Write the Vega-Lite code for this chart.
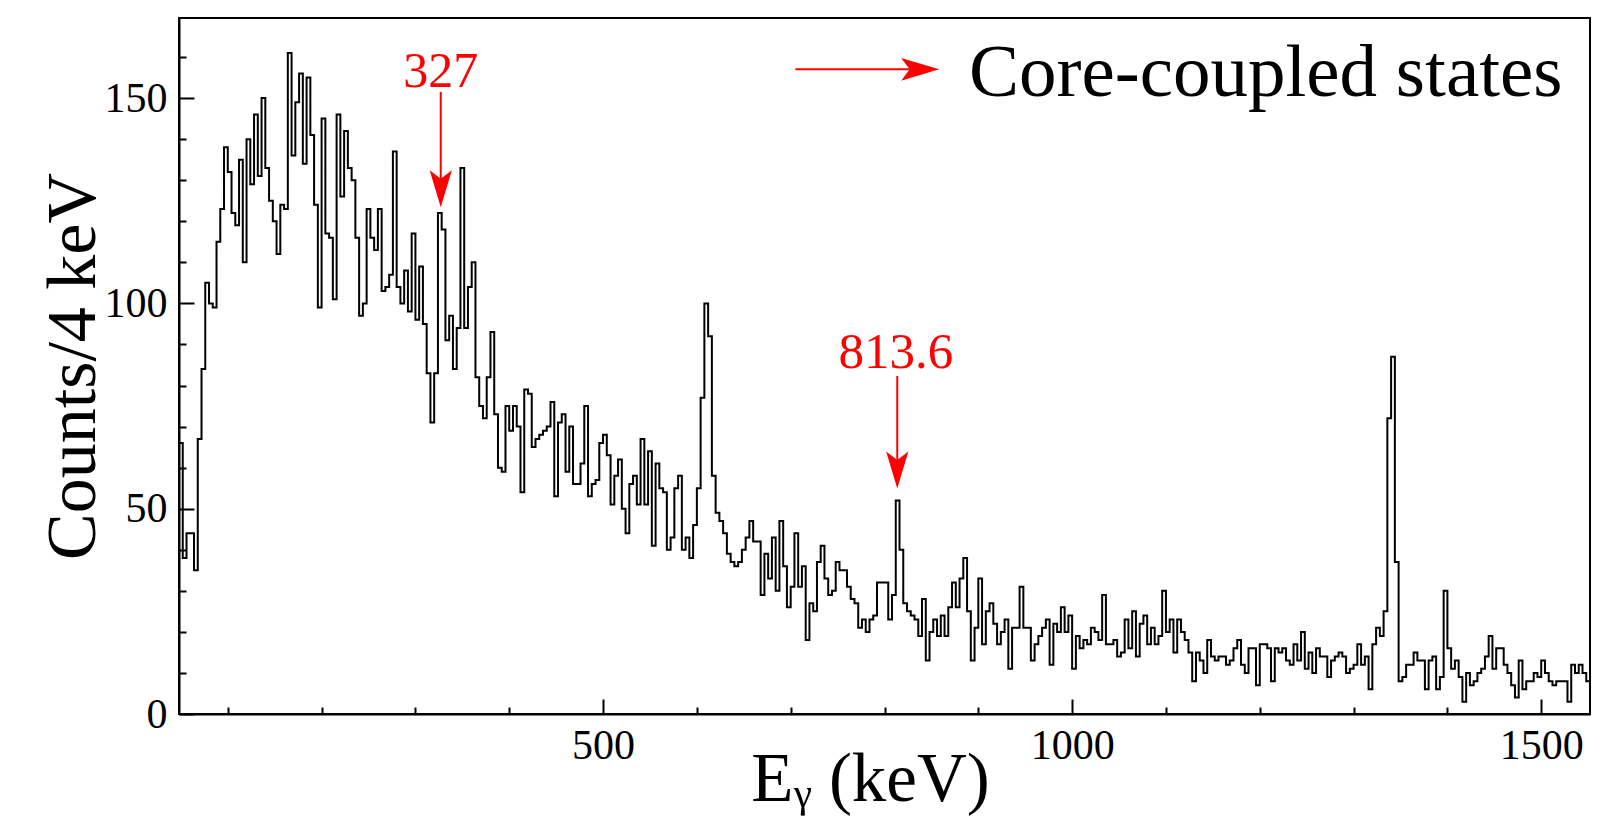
{
  "$schema": "https://vega.github.io/schema/vega-lite/v6.json",
  "width": 1411,
  "height": 696,
  "autosize": {"type": "none"},
  "padding": {"left": 179, "top": 18, "right": 13, "bottom": 102},
  "background": "white",
  "config": {
    "view": {"stroke": "black", "strokeWidth": 2},
    "axis": {
      "domainColor": "black", "domainWidth": 2, "tickColor": "black", "tickWidth": 2,
      "labelFont": "Liberation Serif", "labelFontSize": 42, "labelColor": "black",
      "titleFont": "Liberation Serif", "titleFontSize": 70, "titleFontWeight": "normal", "titleColor": "black",
      "grid": false, "labelOverlap": false, "labelFlush": false
    }
  },
  "datasets": {
    "spec": [
      {"e":48,"c":66},{"e":52,"c":38},{"e":56,"c":44},{"e":60,"c":44},{"e":64,"c":35},{"e":68,"c":67},{"e":72,"c":84},{"e":76,"c":105},{"e":80,"c":100},{"e":84,"c":99},
      {"e":88,"c":115},{"e":92,"c":123},{"e":96,"c":138},{"e":100,"c":132},{"e":104,"c":122},{"e":108,"c":119},{"e":112,"c":135},{"e":116,"c":110},{"e":120,"c":140},{"e":124,"c":129},
      {"e":128,"c":146},{"e":132,"c":131},{"e":136,"c":150},{"e":140,"c":133},{"e":144,"c":125},{"e":148,"c":120},{"e":152,"c":112},{"e":156,"c":124},{"e":160,"c":123},{"e":164,"c":161},
      {"e":168,"c":136},{"e":172,"c":149},{"e":176,"c":156},{"e":180,"c":134},{"e":184,"c":155},{"e":188,"c":141},{"e":192,"c":124},{"e":196,"c":99},{"e":200,"c":145},{"e":204,"c":117},
      {"e":208,"c":116},{"e":212,"c":101},{"e":216,"c":146},{"e":220,"c":126},{"e":224,"c":142},{"e":228,"c":133},{"e":232,"c":130},{"e":236,"c":116},{"e":240,"c":97},{"e":244,"c":100},
      {"e":248,"c":123},{"e":252,"c":116},{"e":256,"c":113},{"e":260,"c":123},{"e":264,"c":103},{"e":268,"c":104},{"e":272,"c":107},{"e":276,"c":137},{"e":280,"c":104},{"e":284,"c":100},
      {"e":288,"c":108},{"e":292,"c":98},{"e":296,"c":117},{"e":300,"c":96},{"e":304,"c":109},{"e":308,"c":95},{"e":312,"c":83},{"e":316,"c":71},{"e":320,"c":83},{"e":324,"c":122},
      {"e":328,"c":118},{"e":332,"c":91},{"e":336,"c":97},{"e":340,"c":84},{"e":344,"c":94},{"e":348,"c":133},{"e":352,"c":94},{"e":356,"c":104},{"e":360,"c":110},{"e":364,"c":82},
      {"e":368,"c":75},{"e":372,"c":72},{"e":376,"c":82},{"e":380,"c":93},{"e":384,"c":73},{"e":388,"c":60},{"e":392,"c":59},{"e":396,"c":75},{"e":400,"c":69},{"e":404,"c":75},
      {"e":408,"c":70},{"e":412,"c":54},{"e":416,"c":79},{"e":420,"c":78},{"e":424,"c":65},{"e":428,"c":67},{"e":432,"c":68},{"e":436,"c":69},{"e":440,"c":70},{"e":444,"c":76},
      {"e":448,"c":53},{"e":452,"c":71},{"e":456,"c":73},{"e":460,"c":59},{"e":464,"c":70},{"e":468,"c":56},{"e":472,"c":56},{"e":476,"c":61},{"e":480,"c":75},{"e":484,"c":53},
      {"e":488,"c":56},{"e":492,"c":57},{"e":496,"c":66},{"e":500,"c":68},{"e":504,"c":63},{"e":508,"c":51},{"e":512,"c":58},{"e":516,"c":62},{"e":520,"c":50},{"e":524,"c":44},
      {"e":528,"c":56},{"e":532,"c":58},{"e":536,"c":51},{"e":540,"c":67},{"e":544,"c":51},{"e":548,"c":64},{"e":552,"c":41},{"e":556,"c":61},{"e":560,"c":55},{"e":564,"c":54},
      {"e":568,"c":40},{"e":572,"c":43},{"e":576,"c":55},{"e":580,"c":58},{"e":584,"c":40},{"e":588,"c":43},{"e":592,"c":38},{"e":596,"c":46},{"e":600,"c":55},{"e":604,"c":77},
      {"e":608,"c":100},{"e":612,"c":92},{"e":616,"c":58},{"e":620,"c":49},{"e":624,"c":47},{"e":628,"c":44},{"e":632,"c":39},{"e":636,"c":37},{"e":640,"c":36},{"e":644,"c":37},
      {"e":648,"c":40},{"e":652,"c":43},{"e":656,"c":47},{"e":660,"c":42},{"e":664,"c":42},{"e":668,"c":29},{"e":672,"c":39},{"e":676,"c":33},{"e":680,"c":43},{"e":684,"c":30},
      {"e":688,"c":47},{"e":692,"c":36},{"e":696,"c":26},{"e":700,"c":31},{"e":704,"c":44},{"e":708,"c":31},{"e":712,"c":36},{"e":716,"c":18},{"e":720,"c":27},{"e":724,"c":25},
      {"e":728,"c":37},{"e":732,"c":41},{"e":736,"c":33},{"e":740,"c":29},{"e":744,"c":30},{"e":748,"c":37},{"e":752,"c":35},{"e":756,"c":35},{"e":760,"c":31},{"e":764,"c":28},
      {"e":768,"c":27},{"e":772,"c":21},{"e":776,"c":23},{"e":780,"c":20},{"e":784,"c":23},{"e":788,"c":24},{"e":792,"c":32},{"e":796,"c":32},{"e":800,"c":32},{"e":804,"c":23},
      {"e":808,"c":29},{"e":812,"c":52},{"e":816,"c":40},{"e":820,"c":27},{"e":824,"c":25},{"e":828,"c":24},{"e":832,"c":23},{"e":836,"c":19},{"e":840,"c":28},{"e":844,"c":13},
      {"e":848,"c":20},{"e":852,"c":23},{"e":856,"c":19},{"e":860,"c":24},{"e":864,"c":19},{"e":868,"c":26},{"e":872,"c":32},{"e":876,"c":26},{"e":880,"c":33},{"e":884,"c":38},
      {"e":888,"c":25},{"e":892,"c":13},{"e":896,"c":21},{"e":900,"c":33},{"e":904,"c":17},{"e":908,"c":25},{"e":912,"c":27},{"e":916,"c":22},{"e":920,"c":17},{"e":924,"c":20},
      {"e":928,"c":23},{"e":932,"c":11},{"e":936,"c":21},{"e":940,"c":21},{"e":944,"c":31},{"e":948,"c":21},{"e":952,"c":21},{"e":956,"c":13},{"e":960,"c":17},{"e":964,"c":19},
      {"e":968,"c":21},{"e":972,"c":23},{"e":976,"c":12},{"e":980,"c":22},{"e":984,"c":20},{"e":988,"c":26},{"e":992,"c":20},{"e":996,"c":24},{"e":1000,"c":11},{"e":1004,"c":19},
      {"e":1008,"c":16},{"e":1012,"c":18},{"e":1016,"c":17},{"e":1020,"c":21},{"e":1024,"c":20},{"e":1028,"c":18},{"e":1032,"c":29},{"e":1036,"c":17},{"e":1040,"c":17},{"e":1044,"c":18},
      {"e":1048,"c":14},{"e":1052,"c":15},{"e":1056,"c":23},{"e":1060,"c":16},{"e":1064,"c":25},{"e":1068,"c":14},{"e":1072,"c":22},{"e":1076,"c":24},{"e":1080,"c":17},{"e":1084,"c":21},
      {"e":1088,"c":17},{"e":1092,"c":19},{"e":1096,"c":30},{"e":1100,"c":20},{"e":1104,"c":23},{"e":1108,"c":15},{"e":1112,"c":23},{"e":1116,"c":20},{"e":1120,"c":18},{"e":1124,"c":15},
      {"e":1128,"c":8},{"e":1132,"c":15},{"e":1136,"c":13},{"e":1140,"c":10},{"e":1144,"c":18},{"e":1148,"c":14},{"e":1152,"c":13},{"e":1156,"c":14},{"e":1160,"c":14},{"e":1164,"c":12},
      {"e":1168,"c":13},{"e":1172,"c":16},{"e":1176,"c":18},{"e":1180,"c":12},{"e":1184,"c":10},{"e":1188,"c":16},{"e":1192,"c":16},{"e":1196,"c":7},{"e":1200,"c":17},{"e":1204,"c":17},
      {"e":1208,"c":16},{"e":1212,"c":8},{"e":1216,"c":16},{"e":1220,"c":15},{"e":1224,"c":16},{"e":1228,"c":13},{"e":1232,"c":12},{"e":1236,"c":17},{"e":1240,"c":13},{"e":1244,"c":20},
      {"e":1248,"c":11},{"e":1252,"c":15},{"e":1256,"c":10},{"e":1260,"c":16},{"e":1264,"c":14},{"e":1268,"c":14},{"e":1272,"c":9},{"e":1276,"c":13},{"e":1280,"c":14},{"e":1284,"c":15},
      {"e":1288,"c":14},{"e":1292,"c":10},{"e":1296,"c":11},{"e":1300,"c":12},{"e":1304,"c":17},{"e":1308,"c":12},{"e":1312,"c":14},{"e":1316,"c":6},{"e":1320,"c":17},{"e":1324,"c":21},
      {"e":1328,"c":19},{"e":1332,"c":25},{"e":1336,"c":72},{"e":1340,"c":87},{"e":1344,"c":37},{"e":1348,"c":8},{"e":1352,"c":9},{"e":1356,"c":12},{"e":1360,"c":12},{"e":1364,"c":15},
      {"e":1368,"c":13},{"e":1372,"c":13},{"e":1376,"c":6},{"e":1380,"c":13},{"e":1384,"c":14},{"e":1388,"c":6},{"e":1392,"c":9},{"e":1396,"c":30},{"e":1400,"c":16},{"e":1404,"c":11},
      {"e":1408,"c":13},{"e":1412,"c":9},{"e":1416,"c":3},{"e":1420,"c":10},{"e":1424,"c":7},{"e":1428,"c":8},{"e":1432,"c":10},{"e":1436,"c":11},{"e":1440,"c":14},{"e":1444,"c":19},
      {"e":1448,"c":11},{"e":1452,"c":16},{"e":1456,"c":16},{"e":1460,"c":12},{"e":1464,"c":10},{"e":1468,"c":7},{"e":1472,"c":4},{"e":1476,"c":13},{"e":1480,"c":6},{"e":1484,"c":8},
      {"e":1488,"c":8},{"e":1492,"c":10},{"e":1496,"c":9},{"e":1500,"c":13},{"e":1504,"c":10},{"e":1508,"c":8},{"e":1512,"c":7},{"e":1516,"c":8},{"e":1520,"c":8},{"e":1524,"c":8},
      {"e":1528,"c":3},{"e":1532,"c":12},{"e":1536,"c":10},{"e":1540,"c":12},{"e":1544,"c":10},{"e":1548,"c":8},{"e":1552,"c":8}
    ],
    "one": [{}]
  },
  "layer": [
    {
      "data": {"name": "spec"},
      "mark": {"type": "line", "interpolate": "step-after", "color": "black", "strokeWidth": 2, "clip": true},
      "encoding": {
        "x": {"field": "e", "type": "quantitative",
          "scale": {"domain": [48, 1552], "nice": false, "zero": false},
          "axis": {
            "values": [100,200,300,400,500,600,700,800,900,1000,1100,1200,1300,1400,1500],
            "format": "d",
            "tickSize": {"condition": {"test": "datum.value % 500 === 0", "value": -15}, "value": -7},
            "labelExpr": "datum.value % 500 === 0 ? datum.label : ''",
            "labelPadding": 26,
            "title": "Eᵧ (keV)",
            "titleFontSize": 69,
            "titleX": 691, "titleY": 86, "titleBaseline": "alphabetic", "titleAlign": "center"
          }},
        "y": {"field": "c", "type": "quantitative",
          "scale": {"domain": [0, 169.5], "nice": false},
          "axis": {
            "values": [0,10,20,30,40,50,60,70,80,90,100,110,120,130,140,150,160],
            "format": "d",
            "tickSize": {"condition": {"test": "datum.value % 50 === 0", "value": -15}, "value": -7},
            "labelExpr": "datum.value % 50 === 0 ? datum.label : ''",
            "labelPadding": 27,
            "title": "Counts/4 keV",
            "titleX": -85, "titleY": 348, "titleAngle": 270, "titleBaseline": "alphabetic", "titleAlign": "center"
          }}
      }
    },
    {
      "data": {"name": "one"},
      "mark": {"type": "rule", "color": "red", "strokeWidth": 2},
      "encoding": {"x": {"datum": 327}, "y": {"datum": 151.5}, "y2": {"datum": 128.5}}
    },
    {
      "data": {"name": "one"},
      "mark": {"type": "rule", "color": "red", "strokeWidth": 2},
      "encoding": {"x": {"datum": 813.6}, "y": {"datum": 82.3}, "y2": {"datum": 60}}
    },
    {
      "data": {"name": "one"},
      "mark": {"type": "rule", "color": "red", "strokeWidth": 2},
      "encoding": {"x": {"datum": 705}, "x2": {"datum": 836}, "y": {"datum": 157}}
    },
    {
      "data": {"name": "one"},
      "mark": {"type": "point", "shape": "M1,0L-1,-0.6L-0.55,0L-1,0.6Z", "filled": true, "color": "red", "opacity": 1, "size": 1369, "angle": 90, "strokeWidth": 0},
      "encoding": {"x": {"datum": 327}, "y": {"datum": 127.9}}
    },
    {
      "data": {"name": "one"},
      "mark": {"type": "point", "shape": "M1,0L-1,-0.6L-0.55,0L-1,0.6Z", "filled": true, "color": "red", "opacity": 1, "size": 1369, "angle": 90, "strokeWidth": 0},
      "encoding": {"x": {"datum": 813.6}, "y": {"datum": 59.4}}
    },
    {
      "data": {"name": "one"},
      "mark": {"type": "point", "shape": "M1,0L-1,-0.6L-0.55,0L-1,0.6Z", "filled": true, "color": "red", "opacity": 1, "size": 1444, "strokeWidth": 0},
      "encoding": {"x": {"datum": 838}, "y": {"datum": 157}}
    },
    {
      "data": {"name": "one"},
      "mark": {"type": "text", "text": "327", "font": "Liberation Serif", "fontSize": 50, "color": "red", "align": "center", "baseline": "alphabetic"},
      "encoding": {"x": {"datum": 327}, "y": {"datum": 152.7}}
    },
    {
      "data": {"name": "one"},
      "mark": {"type": "text", "text": "813.6", "font": "Liberation Serif", "fontSize": 51, "color": "red", "align": "center", "baseline": "alphabetic"},
      "encoding": {"x": {"datum": 812}, "y": {"datum": 84.3}}
    },
    {
      "data": {"name": "one"},
      "mark": {"type": "text", "text": "Core-coupled states", "font": "Liberation Serif", "fontSize": 75, "color": "black", "align": "left", "baseline": "alphabetic"},
      "encoding": {"x": {"datum": 890}, "y": {"datum": 150.5}}
    }
  ]
}
